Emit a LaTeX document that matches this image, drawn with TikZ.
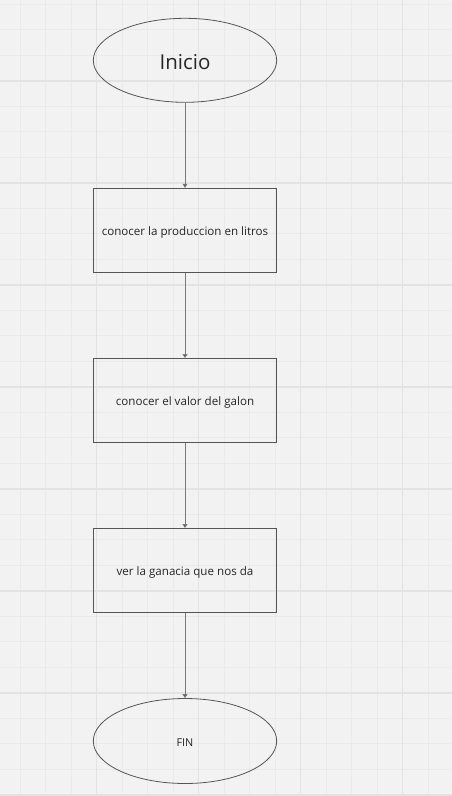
\documentclass[tikz,border=0pt]{standalone}
\usepackage{fontspec}
\setmainfont{Open Sans}
\usetikzlibrary{shapes.geometric,arrows.meta}
\definecolor{bgc}{HTML}{F2F2F2}
\definecolor{gridminor}{HTML}{EAEAEA}
\definecolor{gridmajor}{HTML}{E3E3E3}
\definecolor{shapeline}{HTML}{555555}
\definecolor{arrowline}{HTML}{7A7A7A}
\tikzset{
  term/.style={ellipse, draw=shapeline, line width=0.8pt, minimum width=183.4pt, minimum height=84pt, inner sep=0pt, font=\fontsize{11}{13}\selectfont, text=black!85},
  procbox/.style={rectangle, draw=shapeline, line width=0.8pt, minimum width=183.4pt, minimum height=84.2pt, inner sep=0pt, font=\fontsize{11.6}{14}\selectfont, text=black!85, text height=9.4pt, text depth=0pt},
  flow/.style={draw=arrowline, line width=0.8pt, -{Triangle[length=4pt,width=5pt,fill=shapeline]}}
}
\begin{document}
\begin{tikzpicture}[x=1pt,y=-1pt]
\useasboundingbox (0,0) rectangle (452,796);
\fill[bgc] (0,0) rectangle (452,796);
% minor grid
\foreach \i in {0,...,18} {
  \draw[gridminor, line width=0.8pt] ({-5.3+25.5*\i},0) -- ({-5.3+25.5*\i},796);
}
\foreach \i in {0,...,31} {
  \draw[gridminor, line width=0.8pt] (0,{4.3+25.5*\i}) -- (452,{4.3+25.5*\i});
}
% major grid
\foreach \i in {0,...,3} {
  \draw[gridmajor, line width=1.4pt] ({96.7+102*\i},0) -- ({96.7+102*\i},796);
}
\foreach \i in {0,...,7} {
  \draw[gridmajor, line width=1.4pt] (0,{81+102*\i}) -- (452,{81+102*\i});
}
\node[term, font=\fontsize{20.5}{24}\selectfont, text height=17.4pt, text depth=0pt] (ini) at (185,60.3) {Inicio};
\node[procbox] (b1) at (185,230.3) {conocer la produccion en litros};
\node[procbox] (b2) at (185,400.5) {conocer el valor del galon};
\node[procbox] (b3) at (185,570.5) {ver la ganacia que nos da};
\node[term, minimum height=85pt, font=\fontsize{10.8}{13}\selectfont, text height=10pt, text depth=0pt] (fin) at (185,741) {FIN};
\draw[flow] (ini) -- (b1);
\draw[flow] (b1) -- (b2);
\draw[flow] (b2) -- (b3);
\draw[flow] (b3) -- (fin);
\end{tikzpicture}
\end{document}
